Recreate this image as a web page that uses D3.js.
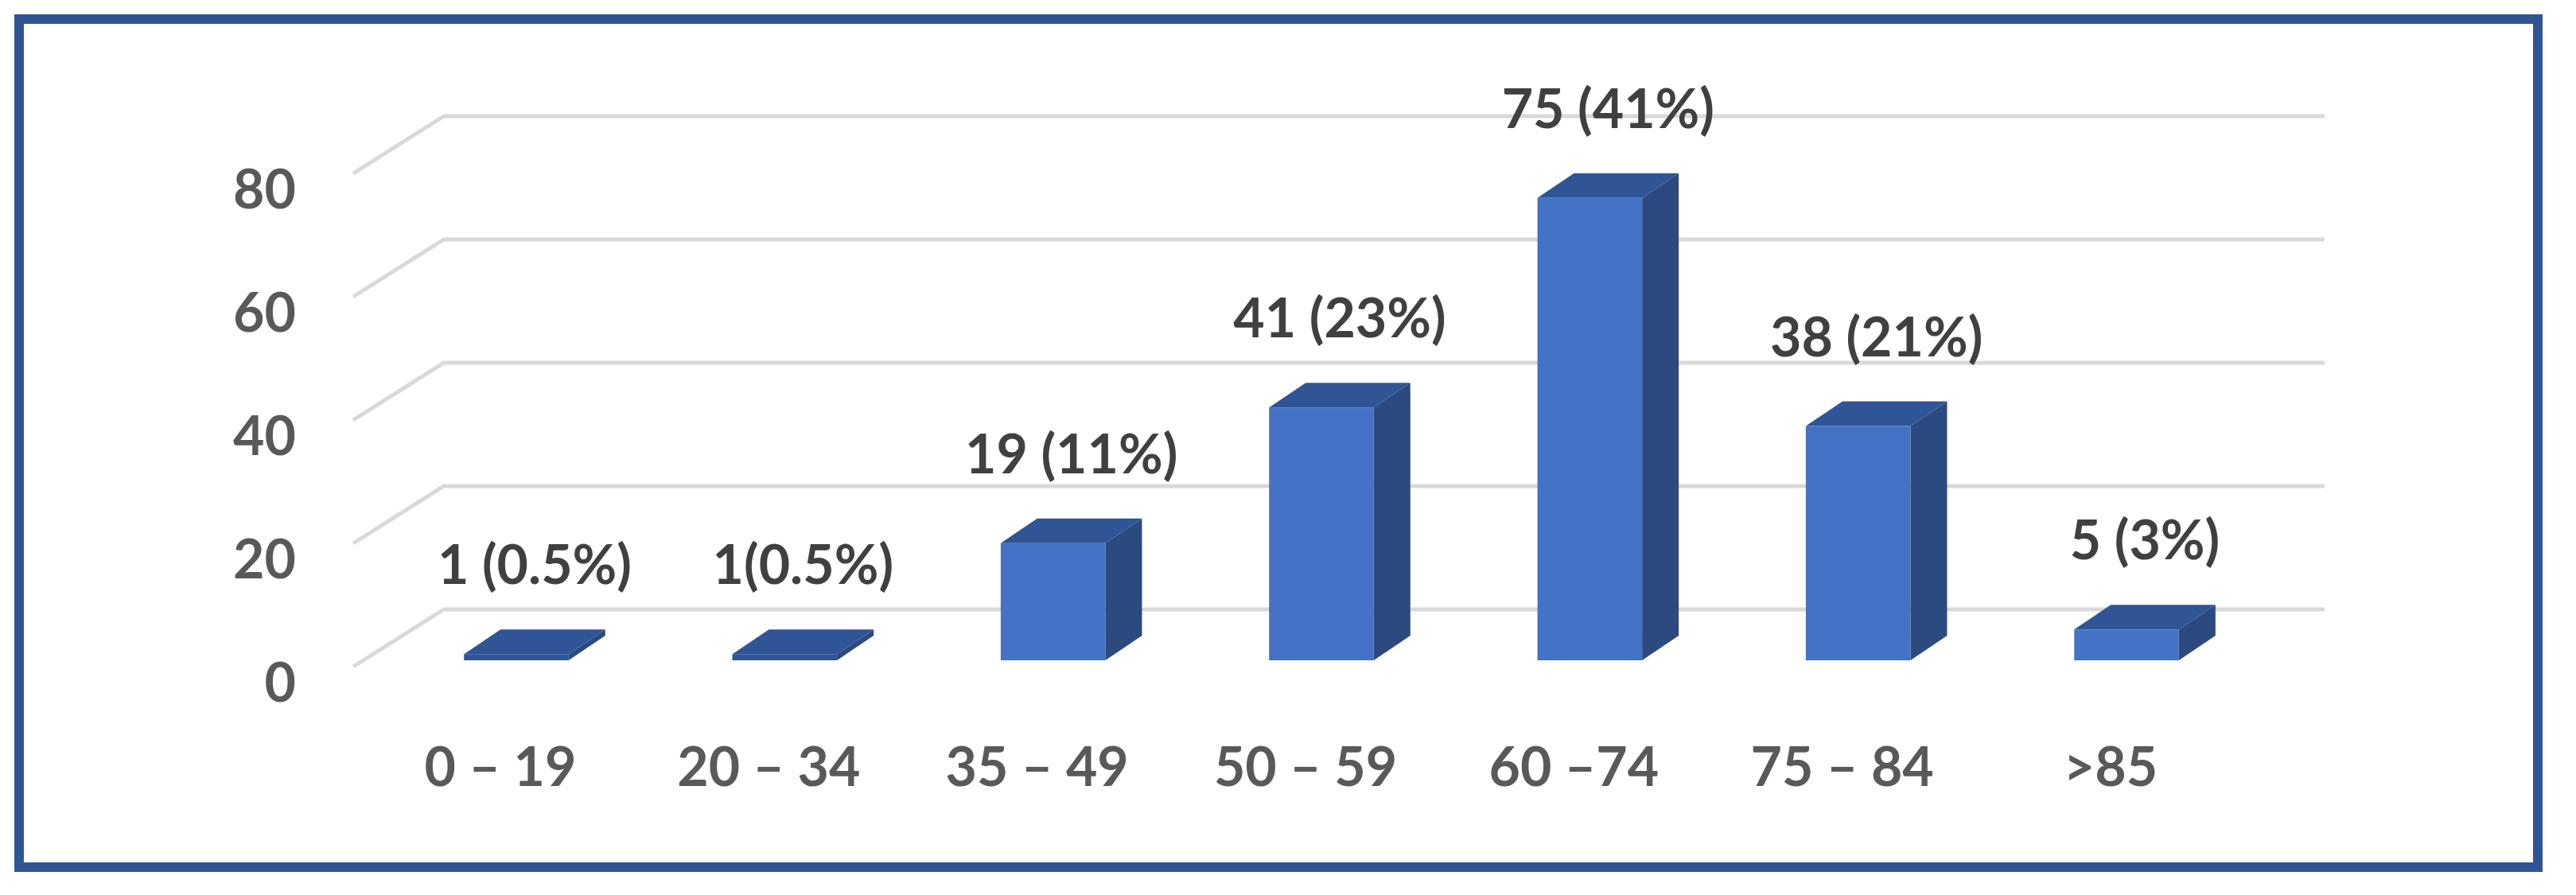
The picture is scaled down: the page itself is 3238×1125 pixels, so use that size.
<!DOCTYPE html>
<html>
<head>
<meta charset="utf-8">
<script src="https://cdn.jsdelivr.net/npm/d3@7"></script>
<style>
  body { margin: 0; background: #fff; }
  text { font-family: Lato, "Open Sans", sans-serif; font-weight: bold; }
</style>
</head>
<body>
<div id="chart"></div>
<script>
var categories = ["0 – 19", "20 – 34", "35 – 49", "50 – 59", "60 –74", "75 – 84", ">85"];
var counts = [1, 1, 19, 41, 75, 38, 5];
var barLabels = ["1 (0.5%)", "1(0.5%)", "19 (11%)", "41 (23%)", "75 (41%)", "38 (21%)", "5 (3%)"];
var yTicks = [0, 20, 40, 60, 80];

var svgWidth = 3238;
var svgHeight = 1125;

var svg = d3.select("#chart")
  .append("svg")
  .attr("width", svgWidth)
  .attr("height", svgHeight);

// outer frame
svg.append("rect")
  .attr("x", 24).attr("y", 24)
  .attr("width", 3166).attr("height", 1066)
  .attr("fill", "#fff")
  .attr("stroke", "#2F5597")
  .attr("stroke-width", 12);

// depth of the floor / wall, and of the bars
var wallDx = 114, wallDy = -72;
var barDx = 46, barDy = -31;
var baseY = 838;

var x = d3.scaleBand()
  .domain(categories)
  .range([482, 2840])
  .paddingInner(0.61)
  .paddingOuter(0.3);

var y = d3.scaleLinear()
  .domain([0, 80])
  .range([baseY, baseY - 620]);

// gridlines: diagonal on the left side wall, then flat across the back wall
var grid = svg.append("g");
yTicks.forEach(function(t) {
  var yf = y(t), yb = y(t) + wallDy;
  grid.append("path")
    .attr("d", `M${444},${yf} L${444 + wallDx},${yb} L${2922},${yb}`)
    .attr("fill", "none")
    .attr("stroke", "#d9d9d9")
    .attr("stroke-width", 5);
});

// y axis labels
svg.append("g").selectAll("text")
  .data(yTicks)
  .enter()
  .append("text")
  .attr("x", 372)
  .attr("y", d => y(d) + 20)
  .attr("dy", "0.35em")
  .attr("text-anchor", "end")
  .attr("fill", "#595959")
  .style("font-size", "68px")
  .text(d => d);

// bars: front face shifted a little back from the front edge
var off = 8;
var bars = svg.append("g").selectAll("g")
  .data(counts)
  .enter()
  .append("g")
  .attr("transform", (d, i) => `translate(${x(categories[i])}, ${-off})`);

var bw = x.bandwidth();
var h = d => Math.max(baseY - y(d), 4);

bars.append("path")
  .attr("d", d => `M${bw},${baseY} L${bw + barDx},${baseY + barDy} L${bw + barDx},${baseY - h(d) + barDy} L${bw},${baseY - h(d)} Z`)
  .attr("fill", "#2C4A80");
bars.append("path")
  .attr("d", d => `M0,${baseY - h(d)} L${barDx},${baseY - h(d) + barDy} L${bw + barDx},${baseY - h(d) + barDy} L${bw},${baseY - h(d)} Z`)
  .attr("fill", "#2F5597");
bars.append("rect")
  .attr("x", 0)
  .attr("y", d => baseY - h(d))
  .attr("width", bw)
  .attr("height", d => h(d))
  .attr("fill", d => d < 3 ? "#2F5597" : "#4472C4");

// value labels
bars.append("text")
  .attr("x", bw / 2 + barDx / 2)
  .attr("y", d => baseY - h(d) - 88)
  .attr("text-anchor", "middle")
  .attr("fill", "#404040")
  .style("font-size", "68px")
  .text((d, i) => barLabels[i]);

// category labels
svg.append("g").selectAll("text")
  .data(categories)
  .enter()
  .append("text")
  .attr("x", d => x(d) + bw / 2 - 20)
  .attr("y", 988)
  .attr("text-anchor", "middle")
  .attr("fill", "#595959")
  .style("font-size", "68px")
  .text(d => d);
</script>
</body>
</html>
